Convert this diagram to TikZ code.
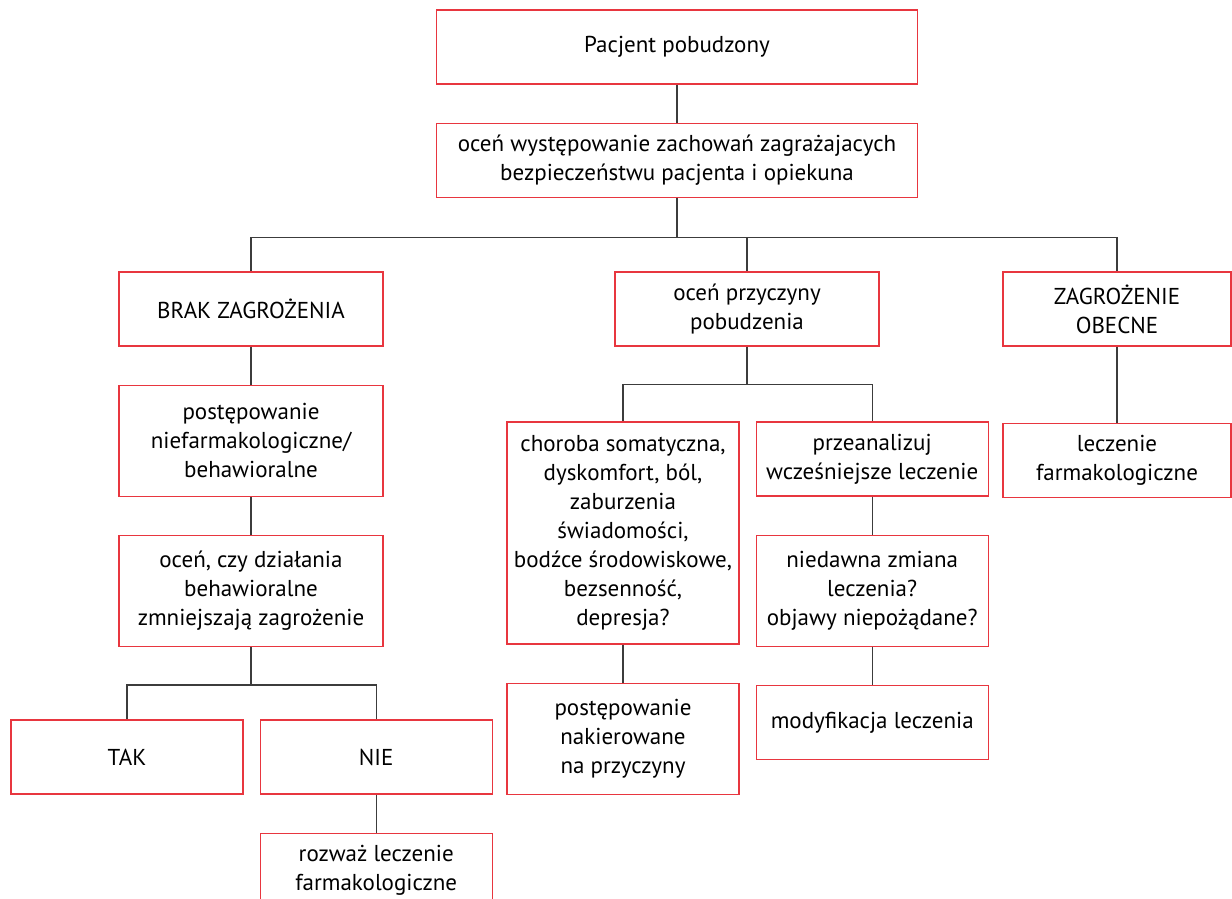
\documentclass[tikz,border=0pt]{standalone}
\usepackage{fontspec}
\setmainfont{PT Sans}
\usetikzlibrary{positioning}
\definecolor{boxred}{HTML}{E8363F}
\definecolor{linegray}{HTML}{3C3C3C}
\begin{document}
\begin{tikzpicture}[x=1pt,y=1pt,
  node distance=38pt and 16pt,
  box/.style={draw=boxred,line width=1.2pt,minimum width=#1,minimum height=74pt,align=center,inner sep=2pt,font=\fontsize{23}{29}\selectfont},
  box/.default=232pt,
  link/.style={line width=1.3pt,color=linegray}
]
\useasboundingbox (0,0) rectangle (1232,-899);
\node[box=481pt] (start) at (677,-47) {Pacjent pobudzony};
\node[box=481pt,below=of start] (assess) {oceń występowanie zachowań zagrażajacych\\bezpieczeństwu pacjenta i opiekuna};
% lewa galaz
\node[box=264pt] (nothreat) at (251,-309) {BRAK ZAGROŻENIA};
\node[box=264pt,minimum height=111pt,below=of nothreat] (behav) {postępowanie\\niefarmakologiczne/\\behawioralne};
\node[box=264pt,minimum height=111pt,below=of behav] (check) {oceń, czy działania\\behawioralne\\zmniejszają zagrożenie};
\node[box] (yes) at (127,-757) {TAK};
\node[box,right=of yes] (no) {NIE};
\node[box,below=of no] (consider) {rozważ leczenie\\farmakologiczne};
% srodkowa galaz
\node[box=264pt] (cause) at (747,-309) {oceń przyczyny\\pobudzenia};
\node[box,minimum height=222pt] (somatic) at (623,-533) {choroba somatyczna,\\dyskomfort, ból,\\zaburzenia\\świadomości,\\bodźce środowiskowe,\\bezsenność,\\depresja?};
\node[box,minimum height=111pt,below=of somatic] (target) {postępowanie\\nakierowane\\na przyczyny};
\node[box,below right=0pt and 16pt of somatic.north east] (review) {przeanalizuj\\wcześniejsze leczenie};
\node[box,minimum height=111pt,below=of review] (change) {niedawna zmiana\\leczenia?\\objawy niepożądane?};
\node[box,below=of change] (modify) {modyfikacja leczenia};
% prawa galaz
\node[box=228pt] (threat) at (1117,-309) {ZAGROŻENIE\\OBECNE};
\node[box=228pt,below=76pt of threat] (pharma) {leczenie\\farmakologiczne};

\draw[link] (start) -- (assess);
\draw[link] (assess.south) -- ++(0,-40) coordinate (split);
\draw[link] (split) -| (nothreat.north);
\draw[link] (split) -| (cause.north);
\draw[link] (split) -| (threat.north);
\draw[link] (nothreat) -- (behav);
\draw[link] (behav) -- (check);
\draw[link] (check.south) -- ++(0,-38) coordinate (split2);
\draw[link] (split2) -| (yes.north);
\draw[link] (split2) -| (no.north);
\draw[link] (no) -- (consider);
\draw[link] (cause.south) -- ++(0,-38) coordinate (split3);
\draw[link] (split3) -| (somatic.north);
\draw[link] (split3) -| (review.north);
\draw[link] (somatic) -- (target);
\draw[link] (review) -- (change);
\draw[link] (change) -- (modify);
\draw[link] (threat) -- (pharma);
\end{tikzpicture}
\end{document}
